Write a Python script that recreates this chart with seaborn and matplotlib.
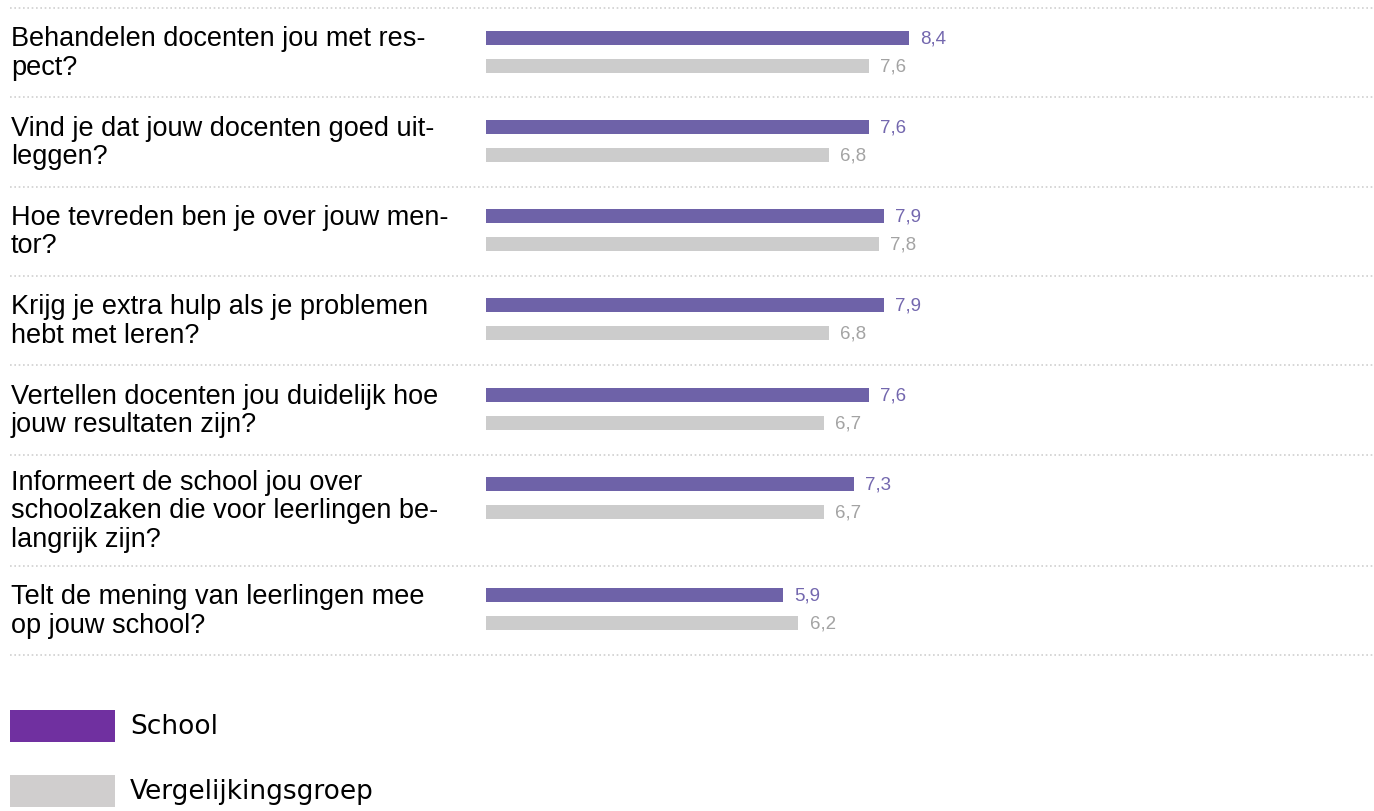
import numpy as np
import pandas as pd
import seaborn as sns
import matplotlib.pyplot as plt
from matplotlib.patches import Rectangle
from matplotlib.transforms import blended_transform_factory

# Data
questions = [
    "Behandelen docenten jou met res-\npect?",
    "Vind je dat jouw docenten goed uit-\nleggen?",
    "Hoe tevreden ben je over jouw men-\ntor?",
    "Krijg je extra hulp als je problemen\nhebt met leren?",
    "Vertellen docenten jou duidelijk hoe\njouw resultaten zijn?",
    "Informeert de school jou over\nschoolzaken die voor leerlingen be-\nlangrijk zijn?",
    "Telt de mening van leerlingen mee\nop jouw school?",
]
school = [8.4, 7.6, 7.9, 7.9, 7.6, 7.3, 5.9]
vergelijking = [7.6, 6.8, 7.8, 6.8, 6.7, 6.7, 6.2]
series = ["School", "Vergelijkingsgroep"]

bar_colors = {"School": "#6E62A8", "Vergelijkingsgroep": "#CCCCCC"}
value_colors = ["#7367AE", "#A3A3A3"]
legend_colors = ["#7030A0", "#D0CECE"]

sns.set_theme(style="white")
plt.rcParams["font.family"] = ["Liberation Sans", "DejaVu Sans"]

W, H = 1374, 812
fig = plt.figure(figsize=(W / 100, H / 100), dpi=100)

# row layout in pixels (rows with 3 text lines are taller)
top_px = 9
row_h = np.array([89.3 + 22 * (q.count("\n") - 1) for q in questions])
row_tops = top_px + np.concatenate([[0], np.cumsum(row_h)[:-1]])
bottom_px = top_px + row_h.sum()

x0_px = 486
ax = fig.add_axes([x0_px / W, 1 - bottom_px / H, (W - x0_px) / W, (bottom_px - top_px) / H])

df = pd.DataFrame({
    "vraag": questions * 2,
    "reeks": [series[0]] * len(questions) + [series[1]] * len(questions),
    "score": school + vergelijking,
    "ypos": list(row_tops + 29.5) + list(row_tops + 57.5),
})

sns.barplot(data=df, x="score", y="ypos", hue="reeks", orient="h",
            native_scale=True, dodge=False, width=0.5, palette=bar_colors,
            saturation=1, errorbar=None, linewidth=0, legend=False, ax=ax)

ax.set_xlim(0, (W - x0_px) / 50.4)
ax.set_ylim(bottom_px, top_px)
ax.set_axis_off()

for c, col in zip(ax.containers, value_colors):
    ax.bar_label(c, fmt=lambda v: f"{v:.1f}".replace(".", ","), padding=8,
                 color=col, fontsize=13.5)

# dotted row separators across the full width
for y in list(row_tops) + [bottom_px]:
    ax.axhline(y, xmin=-(x0_px - 10) / (W - x0_px), xmax=1, clip_on=False,
               color="#D0D0D0", linewidth=1.2, linestyle=(0, (1, 1.6)))

# question labels on the left
trans = blended_transform_factory(fig.transFigure, ax.transData)
for q, t, h in zip(questions, row_tops, row_h):
    ax.text(11 / W, t + h / 2, q, transform=trans, ha="left", va="center",
            fontsize=19.5, color="black", linespacing=1.12)

# legend
for i, (name, col) in enumerate(zip(series, legend_colors)):
    yc = 727 + i * 65
    fig.patches.append(Rectangle((10 / W, 1 - (yc + 16) / H), 105 / W, 32 / H,
                                 transform=fig.transFigure, facecolor=col,
                                 edgecolor="none"))
    fig.text(130 / W, 1 - yc / H, name, ha="left", va="center",
             fontsize=19, family="DejaVu Sans", color="black")

fig.savefig("out.png", dpi=100)
